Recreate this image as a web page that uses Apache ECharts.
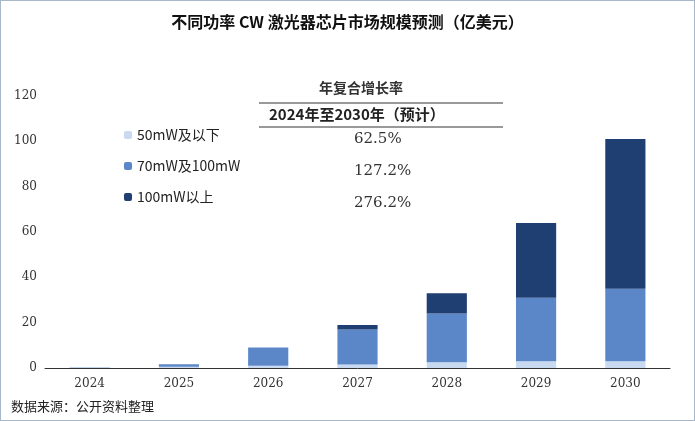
<!DOCTYPE html>
<html><head><meta charset="utf-8">
<script src="https://cdn.jsdelivr.net/npm/echarts@6/dist/echarts.min.js"></script>
<style>body{margin:0;background:#fff}#c{width:695px;height:421px;box-sizing:border-box;border:1px solid #a9b8c8}</style>
</head><body><div id="c"></div>
<script>
// 年份与三档功率数据（亿美元）
const years = ['2024','2025','2026','2027','2028','2029','2030']
const low = [0.2, 0.5, 1, 1.5, 2.5, 3, 3]
const mid = [0.1, 1.2, 8, 15.5, 21.5, 28, 32]
const high = [0, 0, 0, 2, 9, 33, 66]
const names = ['50mW及以下', '70mW及100mW', '100mW以上']
const cagr = ['62.5%', '127.2%', '276.2%']
const colors = ['#c9daf0', '#5b87c9', '#1f3f73']

const myChart = echarts.init(document.getElementById('c'))
const serif = 'DejaVu Serif, Liberation Serif, Noto Sans CJK SC'
const cagrText = cagr.map((t, i) => ({
  type: 'text', left: 353, top: 131 + i * 32,
  style: { text: t, font: '15px ' + serif, fill: '#333' }
}))
myChart.setOption({
  animation: false,
  title: { text: '不同功率 CW 激光器芯片市场规模预测（亿美元）', left: 'center', top: 8,
    textStyle: { fontSize: 16, fontWeight: 'bold', color: '#111', fontFamily: 'Noto Sans CJK SC' } },
  legend: { orient: 'vertical', left: 118, top: 122, itemGap: 17, itemWidth: 8, itemHeight: 8,
    textStyle: { fontSize: 14, color: '#222', fontFamily: 'Noto Sans CJK SC' } },
  grid: { left: 44, right: 24, top: 95, bottom: 52 },
  xAxis: { type: 'category', data: years,
    axisLine: { lineStyle: { color: '#333' } }, axisTick: { inside: true, length: 4 },
    axisLabel: { color: '#333', fontSize: 12, fontFamily: serif, margin: 10 } },
  yAxis: { type: 'value', min: 0, max: 120, interval: 20, splitLine: { show: false },
    axisLine: { show: false },
    axisLabel: { color: '#333', fontSize: 12, fontFamily: serif } },
  series: [low, mid, high].map((d, i) => ({
    name: names[i], type: 'bar', stack: 'a', data: d, barWidth: '45%',
    itemStyle: { color: colors[i] }
  })),
  graphic: [
    { type: 'text', left: 318, top: 80, style: { text: '年复合增长率', font: 'bold 14px Noto Sans CJK SC', fill: '#333' } },
    { type: 'line', shape: { x1: 258, y1: 102, x2: 502, y2: 102 }, style: { stroke: '#777', lineWidth: 1.5 } },
    { type: 'text', left: 268, top: 106, style: { text: '2024年至2030年（预计）', font: 'bold 15px Noto Sans CJK SC', fill: '#222' } },
    { type: 'line', shape: { x1: 258, y1: 126, x2: 502, y2: 126 }, style: { stroke: '#777', lineWidth: 1.5 } },
    ...cagrText,
    { type: 'text', left: 10, top: 399, style: { text: '数据来源：公开资料整理', font: '13px Noto Sans CJK SC', fill: '#222' } }
  ]
})
</script></body></html>
